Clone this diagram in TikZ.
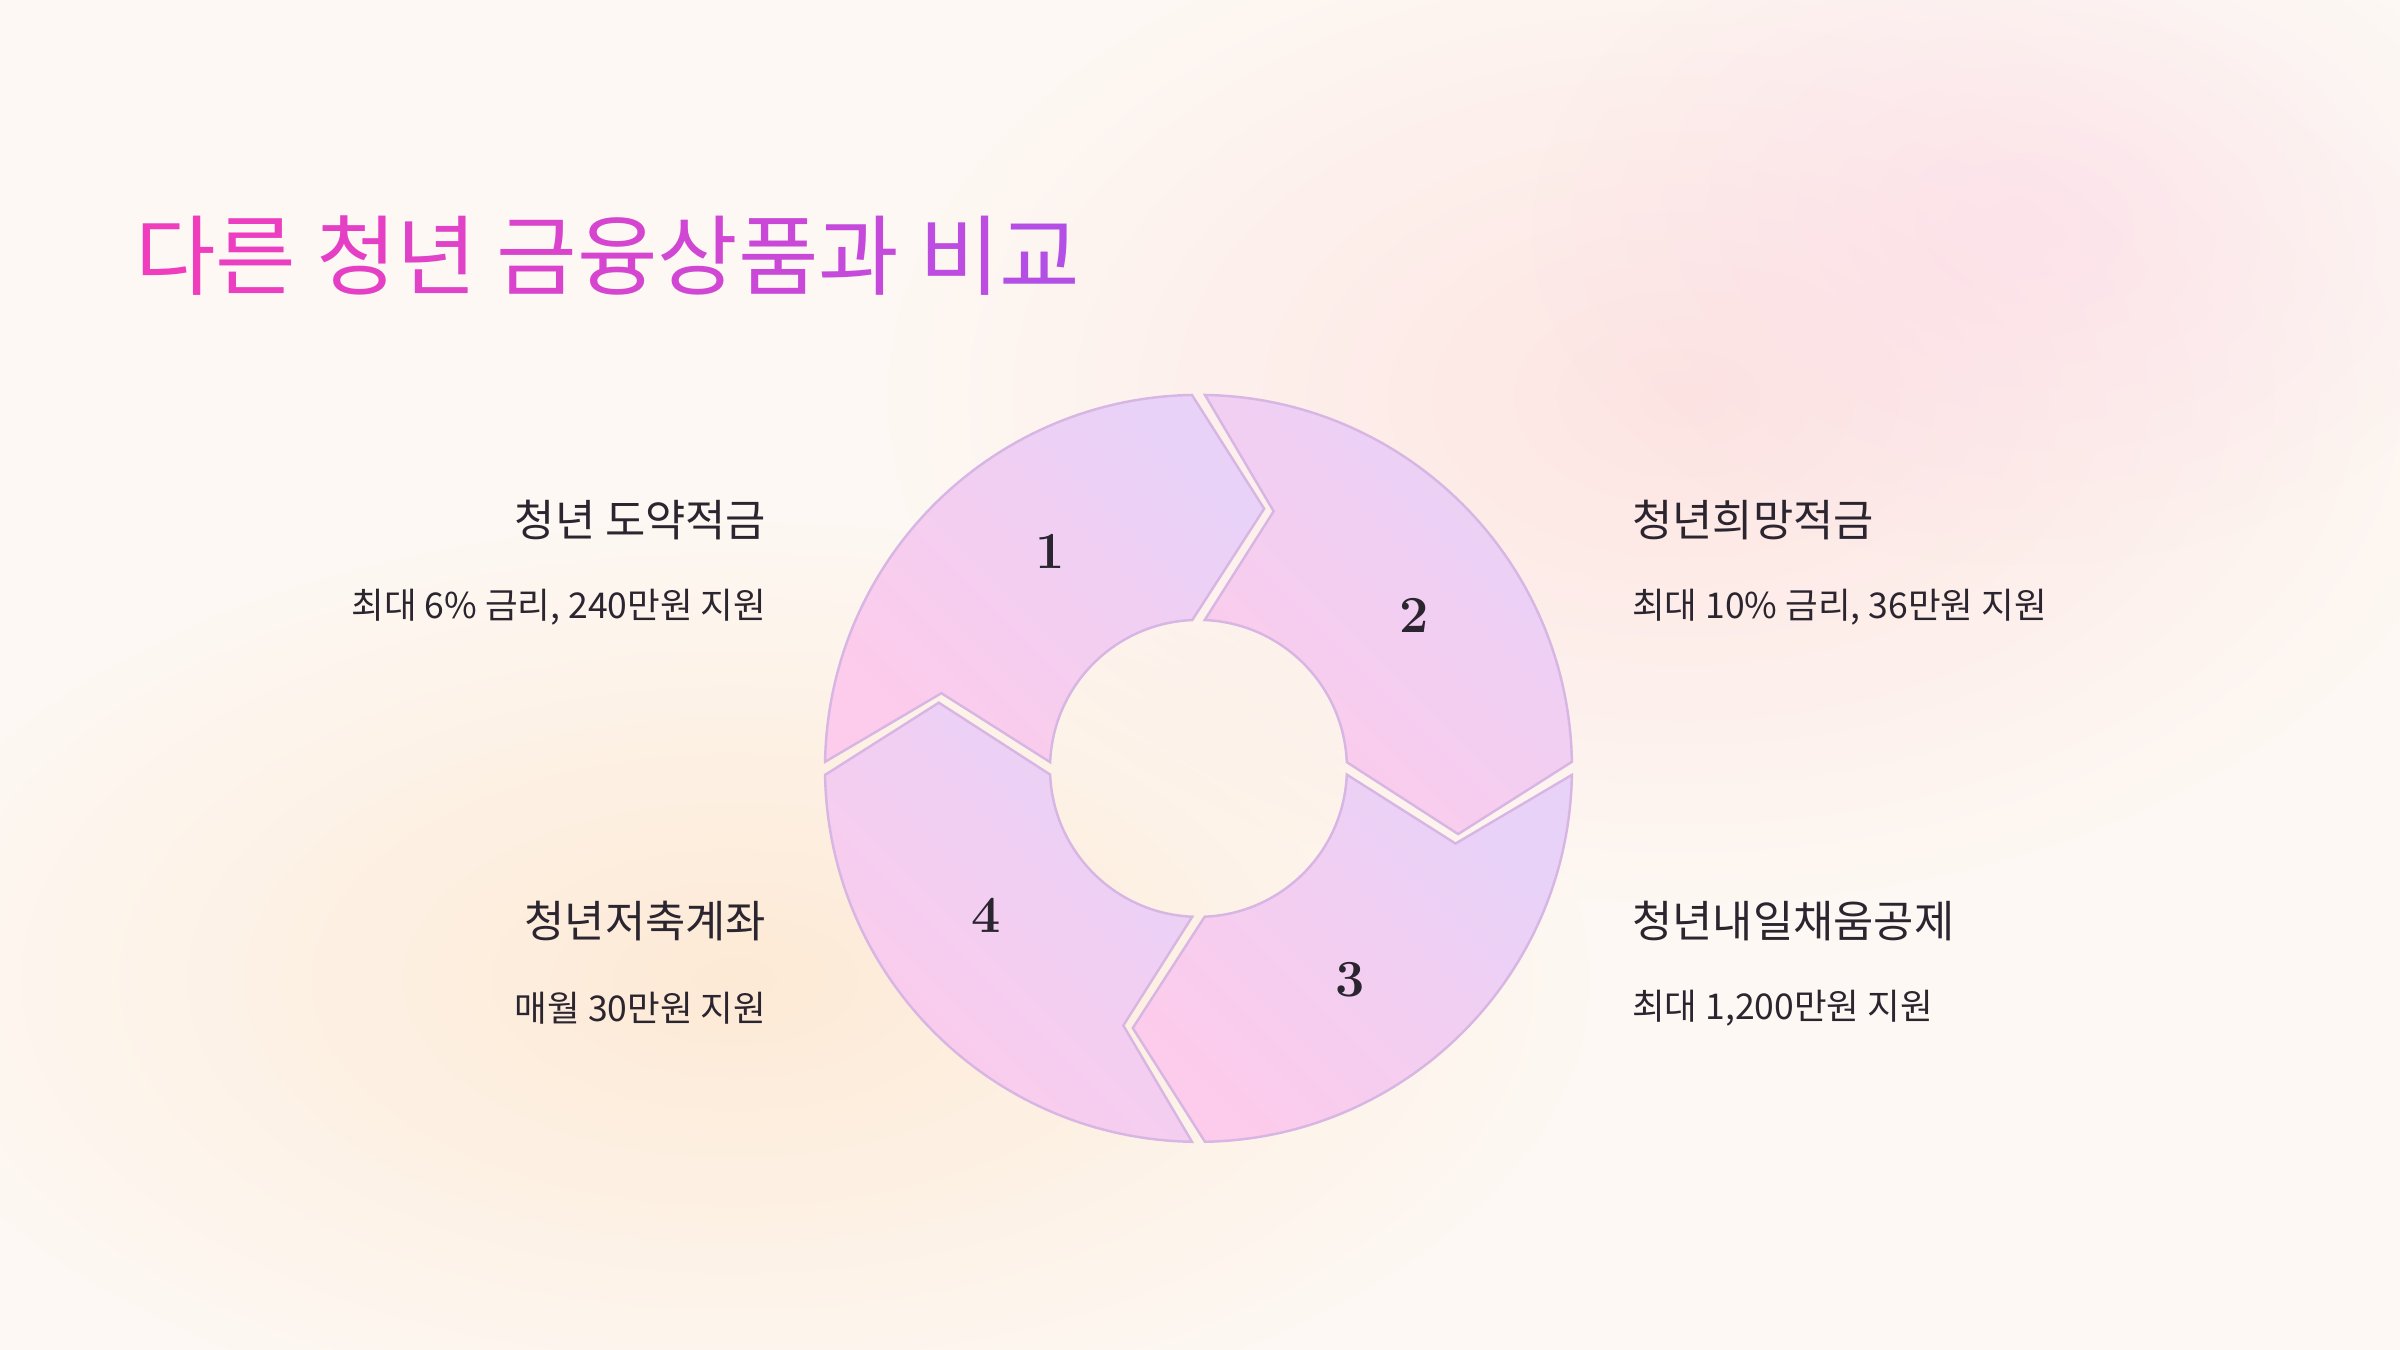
\documentclass[tikz,border=0pt]{standalone}
\usepackage{fontspec}
\usetikzlibrary{fadings}
\newfontfamily\kr{Noto Sans CJK KR}
\definecolor{bg}{HTML}{FDF8F3}
\definecolor{tA}{HTML}{F03DBE}
\definecolor{tB}{HTML}{B44FE6}
\definecolor{sp}{HTML}{FDCBEB}
\definecolor{sl}{HTML}{E8D2F8}
\definecolor{sd}{HTML}{D8B6E4}
\definecolor{ink}{HTML}{2B2530}
\tikzfading[name=softblob, inner color=transparent!0, outer color=transparent!100]
\begin{document}
\begin{tikzpicture}[x=0.5pt,y=-0.5pt,
  head/.style={font=\kr\fontsize{14.3}{17}\selectfont,text=ink,inner sep=0},
  sub/.style={font=\kr\fontsize{11.6}{13}\selectfont,text=ink,inner sep=0},
  num/.style={font=\bfseries\fontsize{17}{20}\selectfont,text=ink}]
\useasboundingbox (0,0) rectangle (1568,882);
\fill[bg] (0,0) rectangle (1568,882);
\fill[pink!70!white,opacity=0.5,path fading=softblob] (1100,260) ellipse [x radius=520,y radius=330];
\fill[magenta!20!white,opacity=0.35,path fading=softblob] (1320,150) ellipse [x radius=320,y radius=220];
\fill[orange!30!white,opacity=0.45,path fading=softblob] (480,640) ellipse [x radius=560,y radius=300];
% title
\node[anchor=west,inner sep=0,font=\kr\fontsize{28.6}{33}\selectfont] (title) at (88,167)
 {\textcolor{tB!0!tA}{다}\textcolor{tB!8!tA}{른} \textcolor{tB!18!tA}{청}\textcolor{tB!26!tA}{년} \textcolor{tB!36!tA}{금}\textcolor{tB!45!tA}{융}\textcolor{tB!54!tA}{상}\textcolor{tB!63!tA}{품}\textcolor{tB!72!tA}{과} \textcolor{tB!85!tA}{비}\textcolor{tB!100!tA}{교}};
% ring
\begin{scope}[shift={(783,502)}]
\foreach \o in {0,90,180,270}{
 \pgfmathsetmacro{\a}{\o+181}\pgfmathsetmacro{\b}{\o+269}
 \pgfmathsetmacro{\t}{\o+284.2}\pgfmathsetmacro{\c}{\o+267.6}
 \pgfmathsetmacro{\d}{\o+182.4}\pgfmathsetmacro{\n}{\o+196.3}
 \shade[shading=axis,bottom color=sp,top color=sl,shading angle=-45,draw=sd,line width=0.8pt]
  (\a:244) arc[start angle=\a,end angle=\b,radius=244] -- (\t:175) -- (\c:97)
  arc[start angle=\c,end angle=\d,radius=97] -- (\n:175) -- cycle;
}
\end{scope}
\node[num] (n1) at (686,360) {1};
\node[num] (n2) at (924,402) {2};
\node[num] (n3) at (882,640) {3};
\node[num] (n4) at (644,598) {4};
% labels
\node[head,anchor=east] (h1) at (501,340) {청년 도약적금};
\node[sub,anchor=east] (s1) at (501,397) {최대 6\% 금리, 240만원 지원};
\node[head,anchor=west] (h2) at (1066,340) {청년희망적금};
\node[sub,anchor=west] (s2) at (1066,397) {최대 10\% 금리, 36만원 지원};
\node[head,anchor=east] (h4) at (501,602) {청년저축계좌};
\node[sub,anchor=east] (s4) at (501,659) {매월 30만원 지원};
\node[head,anchor=west] (h3) at (1066,602) {청년내일채움공제};
\node[sub,anchor=west] (s3) at (1066,659) {최대 1,200만원 지원};
\end{tikzpicture}
\end{document}
